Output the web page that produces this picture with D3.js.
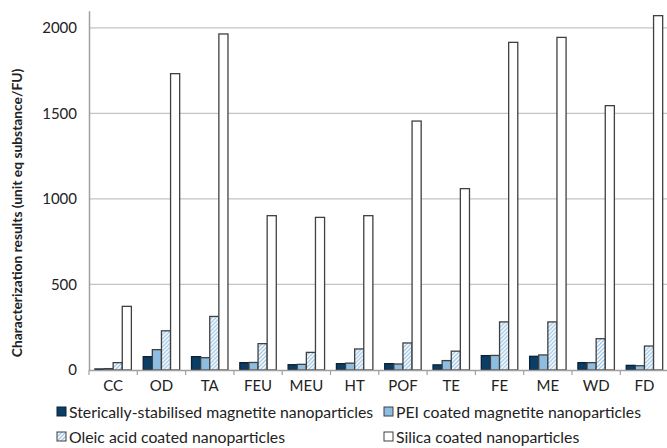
<!DOCTYPE html>
<html>
  <head>
    <title>Characterization results</title>
    <meta charset="utf-8" />
    <script src="https://d3js.org/d3.v7.min.js"></script>
    <style>
      body { margin: 0; background: #fff; }
      text { font-family: Lato, "Open Sans", sans-serif; fill: #222; }
    </style>
  </head>
  <body>
    <div id="chart"></div>
    <script>
      // data
      var categories = ["CC", "OD", "TA", "FEU", "MEU", "HT", "POF", "TE", "FE", "ME", "WD", "FD"];
      var seriesNames = [
        "Sterically-stabilised magnetite nanoparticles",
        "PEI coated magnetite nanoparticles",
        "Oleic acid coated nanoparticles",
        "Silica coated nanoparticles"
      ];
      var steric = [6, 78, 78, 43, 31, 37, 37, 30, 84, 80, 43, 27];
      var pei = [8, 119, 72, 44, 33, 40, 35, 55, 85, 88, 43, 25];
      var oleic = [43, 229, 313, 154, 103, 123, 158, 110, 281, 281, 183, 140];
      var silica = [372, 1732, 1964, 902, 892, 902, 1455, 1060, 1915, 1944, 1545, 2071];
      var yTicks = [0, 500, 1000, 1500, 2000];

      var allSeries = [steric, pei, oleic, silica];
      var fills = ["#0c3d63", "#8dbde0", "url(#hatch)", "#ffffff"];

      var width = 667, height = 448;
      // plot area (note: "top" is a reserved window global, so use mTop etc.)
      var mLeft = 89, mRight = 668.6, mTop = 10.7, mBottom = 370;

      var svg = d3.select("#chart").append("svg")
        .attr("width", width)
        .attr("height", height);

      // hatch pattern for oleic acid bars
      var pat = svg.append("defs").append("pattern")
        .attr("id", "hatch")
        .attr("patternUnits", "userSpaceOnUse")
        .attr("width", 4).attr("height", 4);
      pat.append("rect").attr("width", 4).attr("height", 4).attr("fill", "#fff");
      pat.append("path")
        .attr("d", "M-1,1 l2,-2 M0,4 l4,-4 M3,5 l2,-2")
        .attr("stroke", "#9fc6e6").attr("stroke-width", 1.3);

      var x0 = d3.scaleBand().domain(categories).range([mLeft, mRight]);
      var x1 = d3.scaleBand().domain(d3.range(4)).range([0, x0.bandwidth()])
        .paddingInner(0).paddingOuter(0.65);
      var y = d3.scaleLinear().domain([0, 2100]).range([mBottom, mTop]);

      // gridlines
      svg.append("g").selectAll("line").data(yTicks.slice(1)).enter().append("line")
        .attr("x1", mLeft).attr("x2", width)
        .attr("y1", function (d) { return y(d); })
        .attr("y2", function (d) { return y(d); })
        .attr("stroke", "#c4c4c4").attr("stroke-width", 1.2);

      // y axis
      var yAxis = svg.append("g")
        .attr("transform", "translate(" + mLeft + ",0)")
        .call(d3.axisLeft(y).tickValues(yTicks).tickFormat(d3.format("d")).tickSize(0).tickPadding(12));
      yAxis.select(".domain").attr("stroke", "#a0a0a0").attr("stroke-width", 1.5);
      yAxis.selectAll("text").style("font-size", "15px").attr("fill", "#333");

      // bars
      var groups = svg.append("g").selectAll("g").data(categories).enter().append("g")
        .attr("transform", function (d) { return "translate(" + x0(d) + ",0)"; });
      groups.selectAll("rect")
        .data(function (d, i) { return allSeries.map(function (s, j) { return { j: j, v: s[i] }; }); })
        .enter().append("rect")
        .attr("x", function (d) { return x1(d.j); })
        .attr("width", x1.bandwidth())
        .attr("y", function (d) { return y(d.v); })
        .attr("height", function (d) { return mBottom - y(d.v); })
        .attr("fill", function (d) { return fills[d.j]; })
        .attr("stroke", function (d) { return d.j == 0 ? "#0a2238" : "#404040"; })
        .attr("stroke-width", 1.3);

      // x axis
      var xAxis = svg.append("g")
        .attr("transform", "translate(0," + mBottom + ")")
        .call(d3.axisBottom(x0).tickSize(0).tickPadding(10));
      xAxis.select(".domain").attr("stroke", "#a0a0a0").attr("stroke-width", 1.5);
      xAxis.selectAll("text").style("font-size", "15px").attr("fill", "#333");
      svg.append("g").selectAll("line").data(d3.range(categories.length + 1)).enter().append("line")
        .attr("x1", function (i) { return mLeft + i * x0.step(); })
        .attr("x2", function (i) { return mLeft + i * x0.step(); })
        .attr("y1", mBottom).attr("y2", mBottom + 5)
        .attr("stroke", "#a0a0a0").attr("stroke-width", 1.2);

      // y title
      svg.append("text")
        .attr("transform", "translate(22,213) rotate(-90)")
        .attr("text-anchor", "middle")
        .style("font-size", "13.8px").style("font-weight", "bold")
        .text("Characterization results (unit eq substance/FU)");

      // legend
      var legPos = [[57, 412], [384, 412], [57, 437], [384, 437]];
      var leg = svg.append("g").selectAll("g").data(seriesNames).enter().append("g")
        .attr("transform", function (d, i) { return "translate(" + legPos[i][0] + "," + legPos[i][1] + ")"; });
      leg.append("rect")
        .attr("x", 0).attr("y", -5).attr("width", 9).attr("height", 9)
        .attr("fill", function (d, i) { return fills[i]; })
        .attr("stroke", function (d, i) { return i == 0 ? "#0a2238" : "#404040"; })
        .attr("stroke-width", 1);
      leg.append("text")
        .attr("x", 12).attr("y", 5.5)
        .style("font-size", "15.8px")
        .text(function (d) { return d; });
    </script>
  </body>
</html>
